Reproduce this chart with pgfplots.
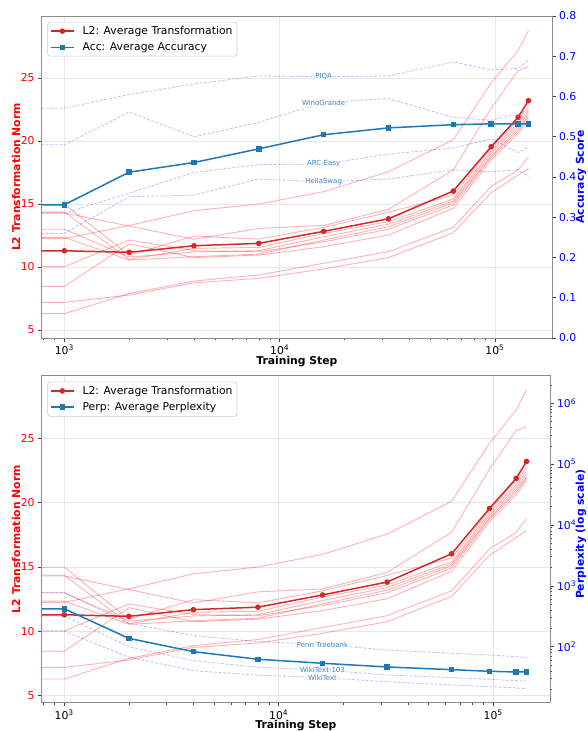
\documentclass[border=0pt]{standalone}
\usepackage{fontspec}
\setmainfont{DejaVu Sans}
\usepackage{pgfplots}
\usepackage{pgfplotstable}
\pgfplotsset{compat=1.18}

\definecolor{avgred}{RGB}{214,39,40}
\definecolor{avgblue}{RGB}{31,119,180}
\definecolor{lblblue}{RGB}{60,130,195}
\definecolor{spinegray}{RGB}{140,140,140}

\newcommand{\fs}{\fontsize{10.8pt}{13pt}\selectfont}
\newcommand{\fl}{\fontsize{7pt}{8pt}\selectfont}

\pgfplotstableread{
step l1 l2 l3 l4 l5 l6 l7 l8 l9 l10 avg
500 12.25 14.30 14.98 14.36 13.0 12.35 10.03 8.47 7.2 6.3 11.29
1000 12.25 14.30 14.98 14.36 13.0 12.35 10.03 8.47 7.2 6.3 11.29
2000 13.3 13.25 10.95 10.6 10.8 10.55 12.14 11.84 7.78 7.9 11.17
4000 14.47 12.2 12.46 11.48 11.19 10.82 11.3 10.75 8.75 8.89 11.69
8000 15.0 13.07 12.22 11.56 11.3 11.03 11.21 10.95 9.1 9.37 11.88
16000 15.98 13.3 13.15 12.67 12.4 12.14 12.0 11.61 9.85 10.3 12.83
32000 17.56 14.58 14.35 13.6 13.4 13.2 13.0 12.54 10.75 11.22 13.83
64000 20.1 17.7 15.7 15.4 15.24 15.1 14.92 14.66 12.72 13.15 16.03
96000 24.6 22.6 19.4 19.2 19.0 18.8 18.7 18.5 15.9 16.4 19.55
128000 27.2 25.6 21.7 21.4 21.2 21.0 20.8 20.6 17.3 17.7 21.88
143000 28.75 25.9 22.7 22.4 22.2 22.0 21.9 21.7 17.83 18.75 23.2
}\ltab

\pgfplotstableread{
step piqa wino arc hella acc
500 0.571 0.480 0.310 0.260 0.331
1000 0.571 0.480 0.310 0.260 0.331
2000 0.605 0.561 0.360 0.351 0.412
4000 0.631 0.500 0.411 0.355 0.436
8000 0.651 0.536 0.431 0.395 0.470
16000 0.649 0.585 0.432 0.388 0.505
32000 0.651 0.595 0.457 0.395 0.522
64000 0.686 0.548 0.472 0.418 0.530
96000 0.666 0.541 0.495 0.413 0.532
128000 0.670 0.556 0.461 0.418 0.532
143000 0.690 0.566 0.475 0.401 0.532
}\atab

\pgfplotstableread{
step penn wtc wt perp
500 771 320 181 420
1000 771 320 181 420
2000 242 100 67 137
4000 152 58.9 40.3 82.8
8000 121 46 34 62.1
16000 109 41.4 31 53.4
32000 88 34.3 26.5 46.4
64000 78 31 23.5 41.9
96000 73 29.1 22 39.4
128000 68.5 27.7 21 38.4
143000 67 27.3 20.4 38.4
}\ptab

\tikzset{
  avgL2/.style={color=avgred, line width=1.5pt, mark=*, mark size=2pt, mark options={solid, fill=avgred, draw=avgred}},
  avgB/.style={color=avgblue, line width=1.5pt, mark=square*, mark size=2pt, mark options={solid, fill=avgblue, draw=avgblue}},
  thinr/.style={color=red, draw opacity=0.3, line width=0.9pt},
  dashb/.style={color=blue, draw opacity=0.25, line width=0.8pt, dash pattern=on 3pt off 1.6pt},
  lbl/.style={font=\fl, text=lblblue, fill=white, inner sep=0.6pt},
}

\begin{document}
\begin{tikzpicture}
\path[use as bounding box] (-41.7pt,-393pt) rectangle (545.3pt,338pt);

% ---------- top: L2 ----------
\begin{axis}[at={(0pt,0pt)}, anchor=south west, width=510.3pt, height=322pt,
  scale only axis, xmode=log, xmin=785, xmax=184000, ymin=4.37, ymax=29.92,
  axis line style={-, spinegray, line width=0.8pt},
  tick align=outside, major tick length=3.6pt, minor tick length=2pt,
  tick style={black!75, line width=0.6pt},
  ticklabel style={font=\fs},
  /pgf/number format/assume math mode=true,
  xtick={1000,10000,100000},
  xticklabels={10\textsuperscript{3},10\textsuperscript{4},10\textsuperscript{5}},
  minor xtick={800,900,2000,3000,4000,5000,6000,7000,8000,9000,20000,30000,40000,50000,60000,70000,80000,90000},
  xtick pos=left, ytick pos=left,
  ytick={5,10,15,20,25}, yticklabel style={text=red},
  grid=major, major grid style={black!9, line width=0.6pt},
  xlabel={Training Step}, ylabel={L2 Transformation Norm},
  every axis x label/.style={at={(axis description cs:0.5,0)}, yshift=-23.3pt, anchor=center, font=\fs\bfseries},
  every axis y label/.style={at={(axis description cs:0,0.5)}, xshift=-25.7pt, rotate=90, anchor=center, font=\fs\bfseries, text=red}]
\pgfplotsinvokeforeach{1,...,10}{\addplot[thinr, forget plot] table[x=step,y=l#1]{\ltab};}
\addplot[avgL2] table[x=step,y=avg]{\ltab};
\end{axis}

% ---------- top: accuracy ----------
\begin{axis}[at={(0pt,0pt)}, anchor=south west, width=510.3pt, height=322pt,
  scale only axis, xmode=log, xmin=785, xmax=184000,
  axis x line=none, axis y line*=right,
  axis line style={-, spinegray, line width=0.8pt},
  tick align=outside, major tick length=3.6pt, minor tick length=2pt,
  tick style={black!75, line width=0.6pt},
  ticklabel style={font=\fs},
  ymin=0, ymax=0.8, ytick={0,0.1,0.2,0.3,0.4,0.5,0.6,0.7,0.8},
  yticklabel style={text=blue, /pgf/number format/.cd, fixed, fixed zerofill, precision=1, assume math mode=true},
  ylabel={Accuracy Score},
  every axis y label/.style={at={(axis description cs:1,0.5)}, xshift=29pt, rotate=90, anchor=center, font=\fs\bfseries, text=blue},
  legend style={at={(axis description cs:0.011,0.982)}, anchor=north west, draw=black!20, line width=0.6pt, rounded corners=2.5pt, fill=white, font=\fs, row sep=2.6pt, inner xsep=2.5pt, inner ysep=2.2pt},
  legend cell align=left,
  legend image code/.code={\draw[mark repeat=2,mark phase=2] plot coordinates {(0pt,0pt) (11.5pt,0pt) (23pt,0pt)}; \path (29pt,0pt);}]
\addlegendimage{avgL2}
\addlegendentry{L2: Average Transformation\hspace{5pt}}
\addplot[dashb, forget plot] table[x=step,y=piqa]{\atab};
\addplot[dashb, forget plot] table[x=step,y=wino]{\atab};
\addplot[dashb, forget plot] table[x=step,y=arc]{\atab};
\addplot[dashb, forget plot] table[x=step,y=hella]{\atab};
\node[lbl] at (axis cs:16000,0.649) {PIQA};
\node[lbl] at (axis cs:16000,0.585) {WinoGrande};
\node[lbl] at (axis cs:16000,0.434) {ARC-Easy};
\node[lbl] at (axis cs:16000,0.388) {HellaSwag};
\addplot[avgB] table[x=step,y=acc]{\atab};
\addlegendentry{Acc: Average Accuracy}
\end{axis}

% ---------- bottom: L2 ----------
\begin{axis}[at={(0pt,-364.7pt)}, anchor=south west, width=508.3pt, height=327pt,
  scale only axis, xmode=log, xmin=785, xmax=184000, ymin=4.46, ymax=29.86,
  axis line style={-, spinegray, line width=0.8pt},
  tick align=outside, major tick length=3.6pt, minor tick length=2pt,
  tick style={black!75, line width=0.6pt},
  ticklabel style={font=\fs},
  /pgf/number format/assume math mode=true,
  xtick={1000,10000,100000},
  xticklabels={10\textsuperscript{3},10\textsuperscript{4},10\textsuperscript{5}},
  minor xtick={800,900,2000,3000,4000,5000,6000,7000,8000,9000,20000,30000,40000,50000,60000,70000,80000,90000},
  xtick pos=left, ytick pos=left,
  ytick={5,10,15,20,25}, yticklabel style={text=red},
  grid=major, major grid style={black!9, line width=0.6pt},
  xlabel={Training Step}, ylabel={L2 Transformation Norm},
  every axis x label/.style={at={(axis description cs:0.5,0)}, yshift=-23.3pt, anchor=center, font=\fs\bfseries},
  every axis y label/.style={at={(axis description cs:0,0.5)}, xshift=-25.7pt, rotate=90, anchor=center, font=\fs\bfseries, text=red}]
\pgfplotsinvokeforeach{1,...,10}{\addplot[thinr, forget plot] table[x=step,y=l#1]{\ltab};}
\addplot[avgL2] table[x=step,y=avg]{\ltab};
\end{axis}

% ---------- bottom: perplexity ----------
\begin{axis}[at={(0pt,-364.7pt)}, anchor=south west, width=508.3pt, height=327pt,
  scale only axis, xmode=log, xmin=785, xmax=184000,
  axis x line=none, axis y line*=right,
  axis line style={-, spinegray, line width=0.8pt},
  tick align=outside, major tick length=3.6pt, minor tick length=2pt,
  tick style={black!75, line width=0.6pt},
  ticklabel style={font=\fs},
  ymode=log, ymin=12, ymax=2840000,
  ytick={100,1000,10000,100000,1000000},
  yticklabels={10\textsuperscript{2},10\textsuperscript{3},10\textsuperscript{4},10\textsuperscript{5},10\textsuperscript{6}},
  yticklabel style={text=blue},
  minor ytick={20,30,40,50,60,70,80,90,200,300,400,500,600,700,800,900,2000,3000,4000,5000,6000,7000,8000,9000,20000,30000,40000,50000,60000,70000,80000,90000,200000,300000,400000,500000,600000,700000,800000,900000,2000000},
  ylabel={Perplexity (log scale)},
  every axis y label/.style={at={(axis description cs:1,0.5)}, xshift=31pt, yshift=5pt, rotate=90, anchor=center, font=\fs\bfseries, text=blue},
  legend style={at={(axis description cs:0.011,0.982)}, anchor=north west, draw=black!20, line width=0.6pt, rounded corners=2.5pt, fill=white, font=\fs, row sep=2.6pt, inner xsep=2.5pt, inner ysep=2.2pt},
  legend cell align=left,
  legend image code/.code={\draw[mark repeat=2,mark phase=2] plot coordinates {(0pt,0pt) (11.5pt,0pt) (23pt,0pt)}; \path (29pt,0pt);}]
\addlegendimage{avgL2}
\addlegendentry{L2: Average Transformation\hspace{5pt}}
\addplot[dashb, forget plot] table[x=step,y=penn]{\ptab};
\addplot[dashb, forget plot] table[x=step,y=wtc]{\ptab};
\addplot[dashb, forget plot] table[x=step,y=wt]{\ptab};
\node[lbl] at (axis cs:16000,109) {Penn Treebank};
\node[lbl] at (axis cs:16000,41.4) {WikiText-103};
\node[lbl] at (axis cs:16000,31) {WikiText};
\addplot[avgB] table[x=step,y=perp]{\ptab};
\addlegendentry{Perp: Average Perplexity}
\end{axis}
\end{tikzpicture}
\end{document}
